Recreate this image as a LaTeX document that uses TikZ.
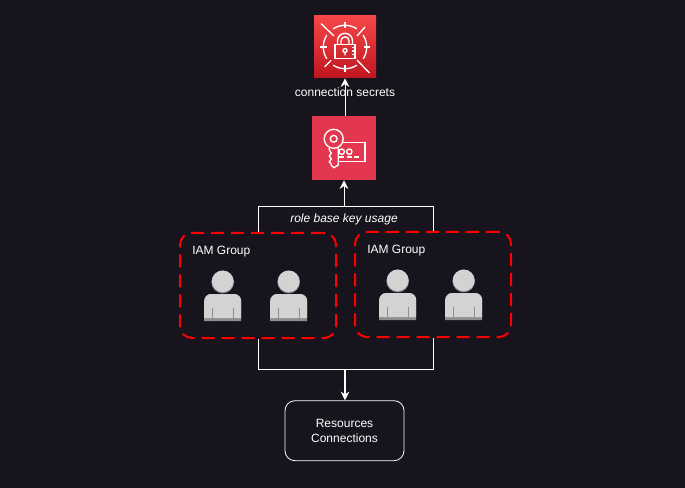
\documentclass[tikz,border=0pt]{standalone}
\usepackage{fontspec}
\usetikzlibrary{arrows.meta}
\setmainfont{Liberation Sans}
\definecolor{bgdark}{HTML}{18141D}
\definecolor{dashred}{HTML}{FF0000}
\definecolor{keyred}{HTML}{E2374F}
\definecolor{lockTop}{HTML}{F54749}
\definecolor{lockBot}{HTML}{BE1620}
\definecolor{userGray}{HTML}{D2D3D3}
\definecolor{userDark}{HTML}{8E8F90}
\tikzset{
  grpbox/.style={draw=dashred, line width=1.5pt, dash pattern=on 9.75pt off 5.25pt, rounded corners=9pt, minimum width=117pt, minimum height=78.75pt},
  grptext/.style={text=white, font=\fontsize{9}{11}\selectfont, anchor=base west, inner sep=0pt},
  lbl/.style={text=white, font=\fontsize{9}{11}\selectfont, align=center, inner sep=0pt},
  link/.style={draw=white, line width=0.75pt},
  arrowlink/.style={link, -{Stealth[length=6.5pt,width=6.5pt]}},
  person/.pic={
    \fill[userDark] (0,-39) circle (11.3);
    \fill[userGray] (0,-39.7) circle (10.8);
    \fill[userDark] (-18.5,0) -- (-18.5,-20) arc (180:270:7) -- (11.5,-27) arc (270:360:7) -- (18.5,0) -- cycle;
    \fill[userGray] (-18.5,-3) -- (-18.5,-20) arc (180:270:7) -- (11.5,-27) arc (270:360:7) -- (18.5,-3) -- cycle;
    \draw[userDark, line width=0.6pt] (-10.2,0) -- (-10.2,-13) (10.2,0) -- (10.2,-13);
  }
}
\begin{document}
\begin{tikzpicture}[x=0.75pt, y=-0.75pt]
\useasboundingbox[fill=bgdark] (0,0) rectangle (685,488);
% nodes
\node[top color=lockTop, bottom color=lockBot, minimum size=46.5pt, inner sep=0pt] (lockIcon) at (345,47) {};
\node[fill=keyred, minimum size=48pt, inner sep=0pt] (keyIcon) at (344,148) {};
\node[grpbox] (grpA) at (258,285.5) {};
\node[grpbox] (grpB) at (433,284.5) {};
\node[draw=white, rounded corners=7.5pt, line width=0.6pt, minimum width=89.25pt, minimum height=45pt, lbl] (resBox) at (344.5,430.7) {Resources\\Connections};
\coordinate (topBend) at (344,207);
\coordinate (botBend) at (345,369);
% connectors
\draw[arrowlink] (keyIcon.north -| lockIcon.south) -- (lockIcon.south);
\draw[arrowlink] (topBend) -- (keyIcon.south);
\draw[link] (grpA.north) -- (grpA.north |- topBend) -- (grpB.north |- topBend) -- (grpB.north);
\draw[link] (grpA.south) -- (grpA.south |- botBend) -- (grpB.south |- botBend) -- (grpB.south);
\draw[arrowlink, line width=1.5pt] (botBend) -- (resBox.north -| botBend);
% labels
\node[lbl] (secretsLbl) at (345,92) {connection secrets};
\node[lbl, font=\fontsize{9}{11}\selectfont\itshape] (usageLbl) at (344,219) {role base key usage};
\node[grptext] (grpAlbl) at (192,255) {IAM Group};
\node[grptext] (grpBlbl) at (367,254) {IAM Group};
% users
\pic at (222.7,321) {person};
\pic at (288.7,321) {person};
\pic at (397.7,320) {person};
\pic at (463.7,320) {person};
% lock icon
\begin{scope}[shift={(lockIcon.center)}, white, line width=1pt]
\draw (-24,-23.5) -- (-11,-11) (20,-20) -- (12,-11) (-20.5,20) -- (-14,13.5) (12,13) -- (24.5,26);
\draw (0,-21.7) arc (-90:-57:21.7) (18.2,-11.8) arc (-33:33:21.7) (11.8,18.2) arc (57:123:21.7) (-18.2,11.8) arc (147:213:21.7) (-11.8,-18.2) arc (237:270:21.7);
\draw (0,-25) -- (0,-18.5) (0,18.5) -- (0,25) (-25,0) -- (-18.5,0) (18.5,0) -- (25,0);
\draw (-10,-2.7) rectangle (10,11.7);
\draw (-7.5,-2.7) -- (-7.5,-6.2) arc (180:360:7.5) -- (7.5,-2.7);
\draw (-4,-2.7) -- (-4,-6.2) arc (180:360:4) -- (4,-2.7);
\draw (0,3.5) circle (2) (0,5.5) -- (0,8.5);
\draw (10,0.5) -- (7,0.5) (10,4) -- (7,4) (10,7.5) -- (7,7.5);
\end{scope}
% key icon
\begin{scope}[shift={(keyIcon.center)}, white, line width=1pt]
\draw (-10.3,-9.2) circle (9.5) (-10.3,-9.2) circle (3.4);
\draw (-14.7,0) -- (-14.7,2) -- (-12.7,5) -- (-14.7,8) -- (-12.7,11) -- (-14.7,14) -- (-12.7,16) -- (-12.7,17.5) -- (-10,19.7) -- (-5.7,17) -- (-5.7,0);
\draw (-1,-5.3) -- (21,-5.3) -- (21,13.7) -- (-5.7,13.7);
\draw (-2.3,3.7) circle (2.7) (5.3,3.7) circle (2.7);
\draw (-4.7,9) -- (0,9) (2.7,9) -- (7.7,9) (10,9) -- (15.3,9);
\end{scope}
\end{tikzpicture}
\end{document}
